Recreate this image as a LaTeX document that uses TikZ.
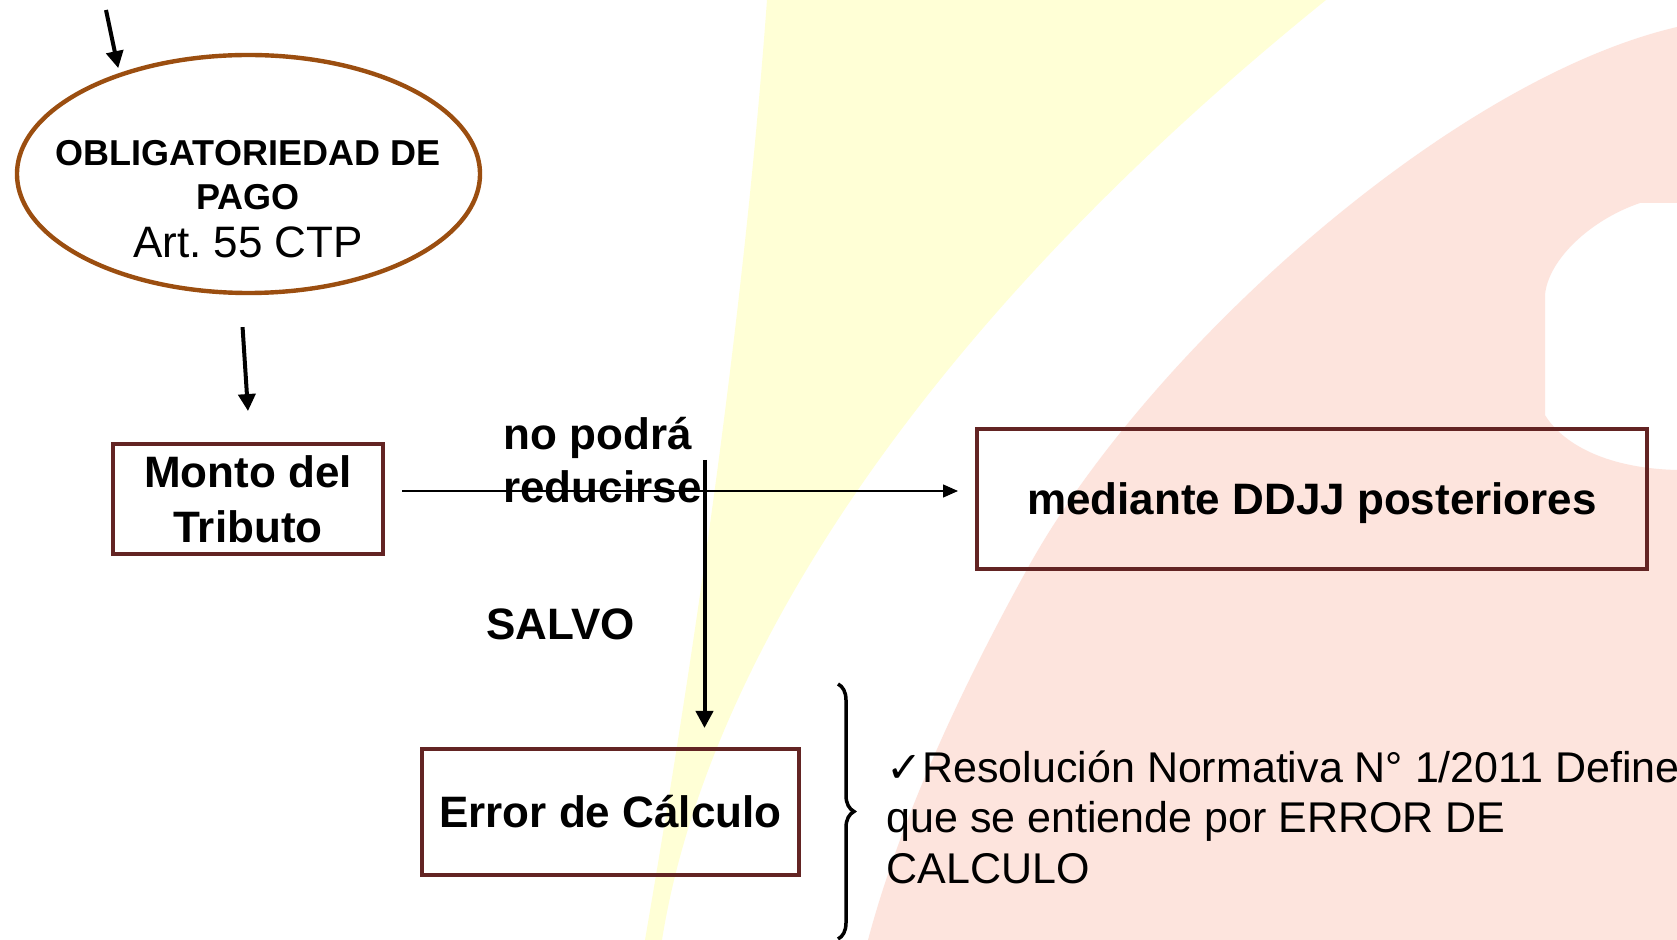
\documentclass[tikz,border=0pt]{standalone}
\usepackage{fontspec}
\setmainfont{Liberation Sans}
\newfontfamily\dejavu{DejaVu Sans}
\usetikzlibrary{positioning,shapes.geometric,arrows.meta,decorations.pathreplacing}
\definecolor{boxred}{RGB}{99,36,35}
\definecolor{ovalbrown}{RGB}{155,78,16}
\definecolor{bgyellow}{RGB}{255,255,214}
\definecolor{bgpink}{RGB}{253,228,221}

\begin{document}
\begin{tikzpicture}[x=0.5pt,y=-0.5pt,
	ovalnode/.style={ellipse, draw=ovalbrown, line width=2.2pt, minimum width=231.5pt, minimum height=119pt, inner sep=0pt},
	boxnode/.style={rectangle, draw=boxred, line width=2pt, inner sep=0pt, align=center, font=\bfseries\fontsize{22}{27.5}\selectfont},
	labeltext/.style={inner sep=0pt, align=left, font=\bfseries\fontsize{22}{26.5}\selectfont},
	thickarrow/.style={line width=2pt, -{Triangle[length=8.5pt,width=8.5pt]}},
	thinarrow/.style={line width=0.65pt, -{Triangle[length=7.5pt,width=6.5pt]}},
	]
	%Background
	\useasboundingbox (0,0) rectangle (1677,940);
	\fill[white] (0,0) rectangle (1677,940);
	\fill[bgyellow] (767,0) .. controls (745,300) and (700,620) .. (645,940) -- (662,940) .. controls (700,700) and (880,360) .. (1326,0) -- cycle;
	\fill[bgpink] (1677,27) .. controls (1450,80) and (1150,350) .. (1030,564) .. controls (960,690) and (900,820) .. (868,940) -- (1677,940) -- (1677,470) .. controls (1600,468) and (1560,440) .. (1545,415) -- (1545,295) .. controls (1548,260) and (1590,220) .. (1640,203) -- (1677,203) -- cycle;
	
	%Nodes
	\node[ovalnode]  (oblig)     at (248.5,174)  {};
	\node[inner sep=0pt, anchor=base, align=center, font=\bfseries\fontsize{18}{22}\selectfont] (obligtxt) at (248,258) {OBLIGATORIEDAD DE\\PAGO\\[2pt]{\mdseries\fontsize{22}{24}\selectfont Art.\ 55 CTP}};
	\node[boxnode, minimum width=135pt, minimum height=55pt]  (monto)     at (248,499)    {Monto del\\Tributo};
	\node[boxnode, minimum width=335pt, minimum height=70pt, text depth=0pt]  (mediante)  at (1312,499)   {mediante DDJJ posteriores};
	\node[boxnode, minimum width=188.5pt, minimum height=63pt]  (errcalc)   at (610.5,812)  {Error de Cálculo};
	\node[labeltext, anchor=base west]  (noreduc)   at (503,503)    {no podrá\\reducirse};
	\node[labeltext, anchor=base west]  (salvo)     at (486,640)    {SALVO};
	\node[inner sep=0pt, anchor=base west, align=left, font=\fontsize{21.5}{25.5}\selectfont] (resol) at (886,884) {{\dejavu ✓}Resolución Normativa N° 1/2011 Define\\que se entiende por ERROR DE\\CALCULO};
	
	\coordinate (topin)    at (106,10);
	\coordinate (vtop)     at (704.5,460);
	\coordinate (bracetop) at (838,684);
	\coordinate (bracebot) at (838,939);
	
	%Connectors
	\draw[thickarrow, shorten >=2.5pt] (topin) -- (oblig.142);
	\draw[thickarrow, shorten <=16pt, shorten >=15.5pt] ([xshift=-4pt]oblig.south) -- ([xshift=1pt]monto.north);
	\draw[thinarrow, shorten <=8.5pt, shorten >=8.5pt] ([yshift=4pt]monto.east) -- ([yshift=4pt]mediante.west);
	\draw[thickarrow, shorten >=9.5pt] (vtop) -- (vtop |- errcalc.north);
	\draw[line width=1.75pt, decorate, decoration={brace, amplitude=8pt}] (bracetop) -- (bracebot);
\end{tikzpicture}
\end{document}
